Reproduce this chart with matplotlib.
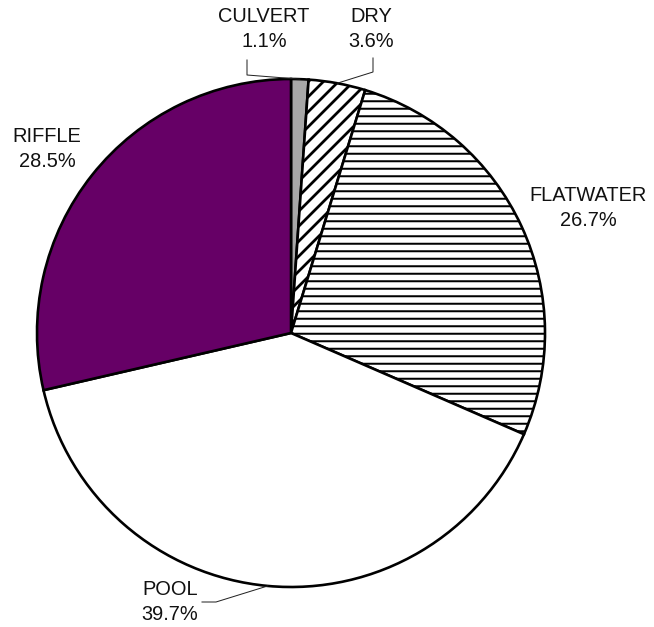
import numpy as np
import matplotlib
matplotlib.use("Agg")
import matplotlib.pyplot as plt

# Stream habitat composition (percent of surveyed length)
habitats = ["CULVERT", "DRY", "FLATWATER", "POOL", "RIFFLE"]
percents = [1.1, 3.6, 26.7, 39.7, 28.5]
pct_labels = ["1.1%", "3.6%", "26.7%", "39.7%", "28.5%"]

colors = ["#a8a8a8", "white", "white", "white", "#660066"]
hatches = [None, "//", "--", None, None]

plt.rcParams["font.family"] = ["Liberation Sans", "DejaVu Sans"]
plt.rcParams["hatch.linewidth"] = 2.2

W, H, DPI = 654, 627, 90
fig = plt.figure(figsize=(W / DPI, H / DPI), dpi=DPI)
ax = fig.add_axes([0, 0, 1, 1])

cx, cy, R = 291, H - 333, 254
wedges, _ = ax.pie(percents, colors=colors, startangle=90, counterclock=False,
                   center=(cx, cy), radius=R,
                   wedgeprops=dict(edgecolor="black", linewidth=2.1))
for w, h in zip(wedges, hatches):
    if h:
        w.set_hatch(h)
if hasattr(wedges[2], "set_hatch_linewidth"):
    wedges[2].set_hatch_linewidth(1.6)

ax.set_xlim(0, W)
ax.set_ylim(0, H)
ax.set_aspect("equal")
ax.axis("off")


def anchor(w):
    # point on the rim at the middle of a wedge
    a = np.deg2rad((w.theta1 + w.theta2) / 2)
    return cx + R * np.cos(a), cy + R * np.sin(a)


fs = 16
label_pos = {"CULVERT": (264, 29), "DRY": (371, 29), "FLATWATER": (588, 208),
             "POOL": (170, 602), "RIFFLE": (47, 149)}
for name, pl in zip(habitats, pct_labels):
    x, y = label_pos[name]
    ax.text(x, H - y, f"{name}\n{pl}", ha="center", va="center", fontsize=fs,
            linespacing=1.4, color="#111111")

# leader lines from labels to the rim
ax0, ay0 = anchor(wedges[0])
ax.plot([247, 247, ax0], [H - 60, H - 75, ay0], color="#222222", lw=0.8)
ax1, ay1 = anchor(wedges[1])
ax.plot([373, 373, ax1], [H - 58, H - 72, ay1], color="#222222", lw=0.8)
ax3, ay3 = anchor(wedges[3])
ax.plot([202, 216, ax3], [H - 602, H - 602, ay3], color="#222222", lw=0.8)

fig.savefig("out.png", dpi=DPI, facecolor="white")
